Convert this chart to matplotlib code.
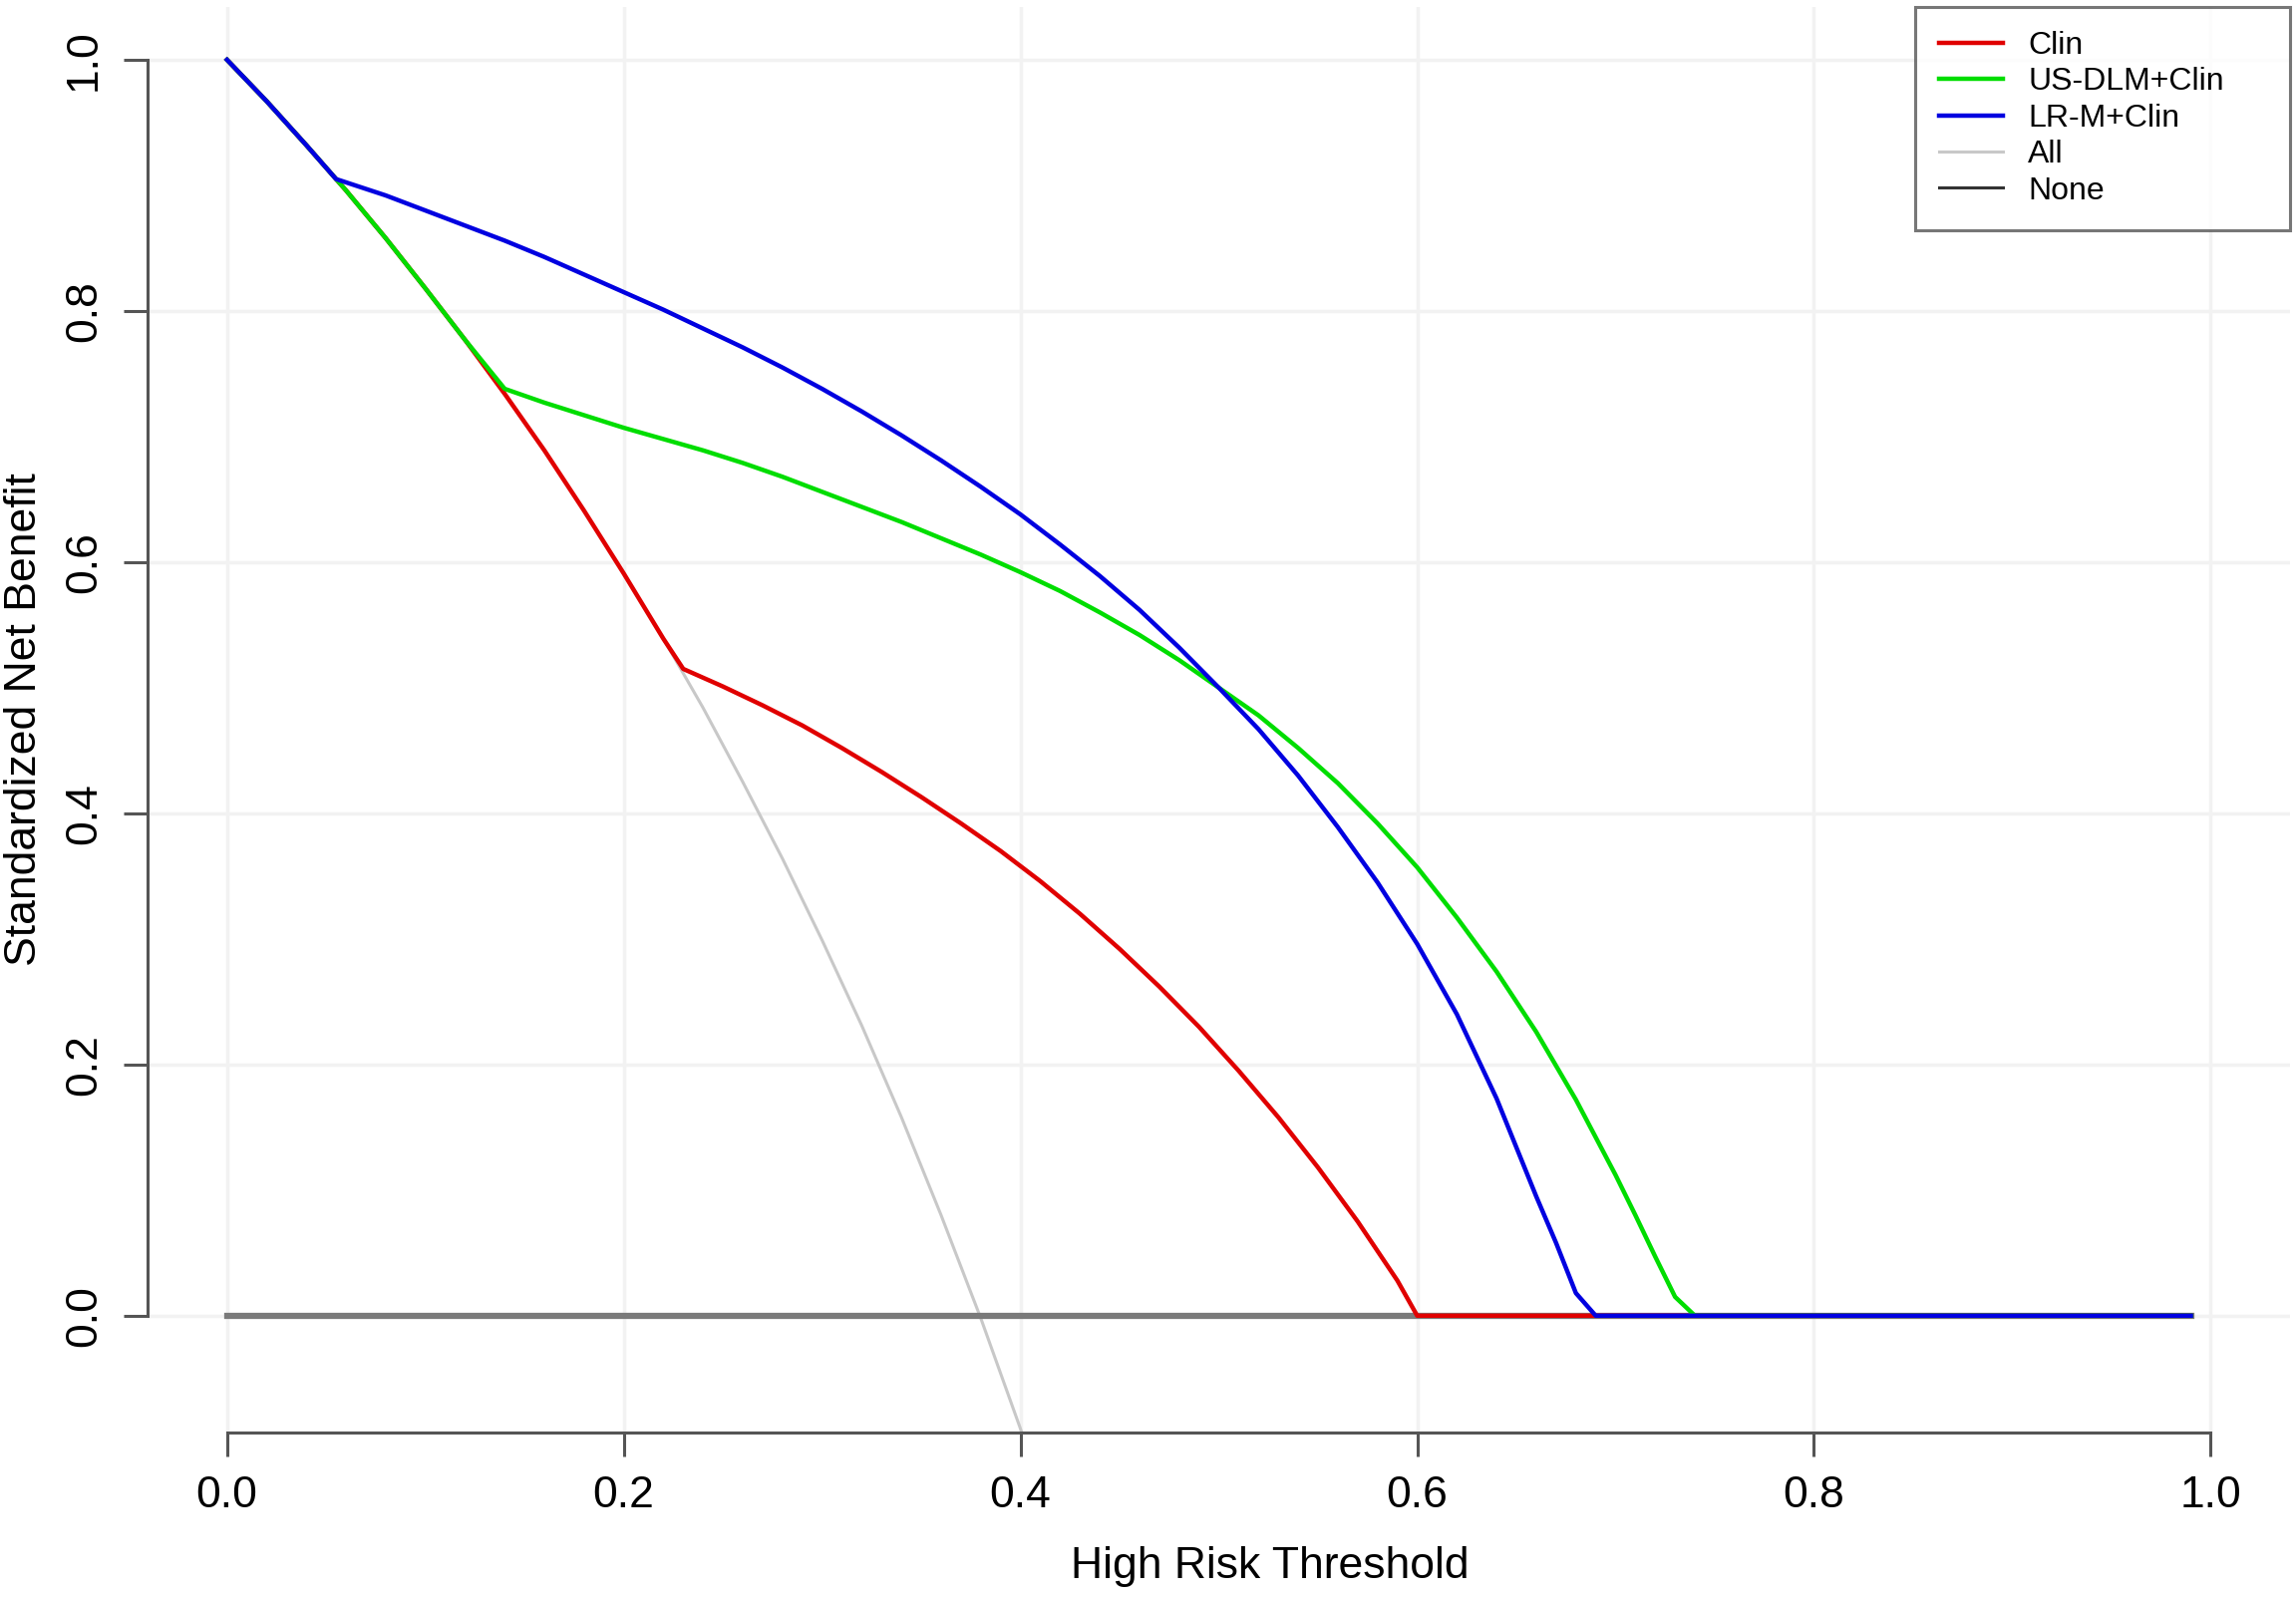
"""Decision curve: standardized net benefit vs. high-risk threshold."""

import matplotlib
matplotlib.use("Agg")
import matplotlib.pyplot as plt
from matplotlib.lines import Line2D

plt.rcParams.update({
    "font.family": ["Liberation Sans", "DejaVu Sans"],
    "font.size": 32,
})

# ------------------------------------------------------------------ #
# Data
# ------------------------------------------------------------------ #
# "All" (treat everyone) curve
all_x = [0.00, 0.02, 0.04, 0.06, 0.08, 0.10, 0.12, 0.14, 0.16, 0.18, 0.20,
         0.22, 0.24, 0.26, 0.28, 0.30, 0.32, 0.34, 0.36, 0.38, 0.40, 0.42]
all_y = [1.000, 0.967, 0.932, 0.896, 0.858, 0.818, 0.777, 0.734, 0.689,
         0.641, 0.591, 0.539, 0.484, 0.425, 0.364, 0.299, 0.231, 0.158,
         0.080, -0.002, -0.090, -0.184]

# Clin
clin_x = [0.00, 0.02, 0.04, 0.06, 0.08, 0.10, 0.12, 0.14, 0.16, 0.18, 0.20,
          0.22, 0.23, 0.25, 0.27, 0.29, 0.31, 0.33, 0.35, 0.37, 0.39, 0.41,
          0.43, 0.45, 0.47, 0.49, 0.51, 0.53, 0.55, 0.57, 0.59, 0.60, 0.99]
clin_y = [1.000, 0.967, 0.932, 0.896, 0.858, 0.818, 0.777, 0.734, 0.689,
          0.641, 0.591, 0.539, 0.515, 0.501, 0.486, 0.470, 0.452, 0.433,
          0.413, 0.392, 0.370, 0.346, 0.320, 0.292, 0.262, 0.230, 0.195,
          0.158, 0.118, 0.075, 0.028, 0.000, 0.000]

# US-DLM+Clin
dlm_x = [0.00, 0.02, 0.04, 0.06, 0.08, 0.10, 0.12, 0.14, 0.16, 0.18, 0.20,
         0.22, 0.24, 0.26, 0.28, 0.30, 0.32, 0.34, 0.36, 0.38, 0.40, 0.42,
         0.44, 0.46, 0.48, 0.50, 0.52, 0.54, 0.56, 0.58, 0.60, 0.62, 0.64,
         0.66, 0.68, 0.70, 0.71, 0.72, 0.73, 0.74, 0.99]
dlm_y = [1.000, 0.967, 0.932, 0.896, 0.858, 0.818, 0.777, 0.738, 0.727,
         0.717, 0.707, 0.698, 0.689, 0.679, 0.668, 0.656, 0.644, 0.632,
         0.619, 0.606, 0.592, 0.577, 0.560, 0.542, 0.522, 0.500, 0.478,
         0.452, 0.424, 0.392, 0.357, 0.317, 0.274, 0.226, 0.172, 0.112,
         0.080, 0.047, 0.015, 0.000, 0.000]

# LR-M+Clin
lrm_x = [0.00, 0.02, 0.04, 0.055, 0.08, 0.10, 0.12, 0.14, 0.16, 0.18, 0.20,
         0.22, 0.24, 0.26, 0.28, 0.30, 0.32, 0.34, 0.36, 0.38, 0.40, 0.42,
         0.44, 0.46, 0.48, 0.50, 0.52, 0.54, 0.56, 0.58, 0.60, 0.62, 0.64,
         0.66, 0.67, 0.68, 0.69, 0.99]
lrm_y = [1.000, 0.967, 0.932, 0.905, 0.892, 0.880, 0.868, 0.856, 0.843,
         0.829, 0.815, 0.801, 0.786, 0.771, 0.755, 0.738, 0.720, 0.701,
         0.681, 0.660, 0.638, 0.614, 0.589, 0.562, 0.532, 0.500, 0.467,
         0.430, 0.389, 0.345, 0.296, 0.240, 0.173, 0.095, 0.058, 0.018,
         0.000, 0.000]

# "None" (treat no one)
none_x = [0.00, 0.99]
none_y = [0.0, 0.0]

labels = ["Clin", "US-DLM+Clin", "LR-M+Clin", "All", "None"]
colors = ["#e00000", "#00dd00", "#0000e0", "#c8c8c8", "#333333"]
ticks = [0.0, 0.2, 0.4, 0.6, 0.8, 1.0]


def main():
    fig = plt.figure(figsize=(23.03, 16.02), dpi=100)
    ax = fig.add_axes([0.0643, 0.103, 0.9331, 0.8926])

    ax.set_xlim(-0.04, 1.04)
    ax.set_ylim(-0.093, 1.042)

    # faint grid at the major ticks
    for t in ticks:
        ax.axvline(t, color="#f2f2f2", linewidth=2.5, zorder=0)
        ax.axhline(t, color="#f2f2f2", linewidth=2.5, zorder=0)

    ax.plot(all_x, all_y, color=colors[3], linewidth=2.2, zorder=2)
    ax.plot(none_x, none_y, color="#7a7a7a", linewidth=4.5, zorder=2)
    ax.plot(clin_x, clin_y, color=colors[0], linewidth=3.2, zorder=3)
    ax.plot(dlm_x, dlm_y, color=colors[1], linewidth=3.2, zorder=4)
    ax.plot(lrm_x, lrm_y, color=colors[2], linewidth=3.2, zorder=5)

    # R-style axes: detached lines spanning the tick range only
    for side in ("top", "right"):
        ax.spines[side].set_visible(False)
    for side in ("left", "bottom"):
        ax.spines[side].set_color("#555555")
        ax.spines[side].set_linewidth(2.2)
    ax.spines["left"].set_bounds(0, 1)
    ax.spines["bottom"].set_bounds(0, 1)

    ax.set_xticks(ticks)
    ax.set_yticks(ticks)
    ax.set_xticklabels([f"{t:.1f}" for t in ticks])
    ax.set_yticklabels([f"{t:.1f}" for t in ticks], rotation=90,
                       va="center")
    ax.tick_params(direction="out", length=17, width=2.2, color="#555555",
                   labelsize=32, pad=14)

    ax.set_xlabel("High Risk Threshold", fontsize=32)
    ax.xaxis.set_label_coords(0.524, -0.08)
    ax.set_ylabel("Standardized Net Benefit", fontsize=32)
    ax.yaxis.set_label_coords(-0.048, 0.5)

    handles = [Line2D([], [], color=c, linewidth=3.2 if i < 3 else 2.2)
               for i, c in enumerate(colors)]
    leg_w = 0.175
    leg = ax.legend(handles, labels, loc="upper right",
                    bbox_to_anchor=(1.0 - leg_w, 0.0, leg_w, 1.0),
                    mode="expand", borderaxespad=0.0,
                    fontsize=23, frameon=True, fancybox=False,
                    handlelength=2.0, handletextpad=0.8, labelspacing=0.2,
                    borderpad=0.75)
    leg.get_frame().set_edgecolor("#555555")
    leg.get_frame().set_linewidth(2.2)

    fig.savefig("out.png", dpi=100)
    plt.close(fig)


if __name__ == "__main__":
    main()
